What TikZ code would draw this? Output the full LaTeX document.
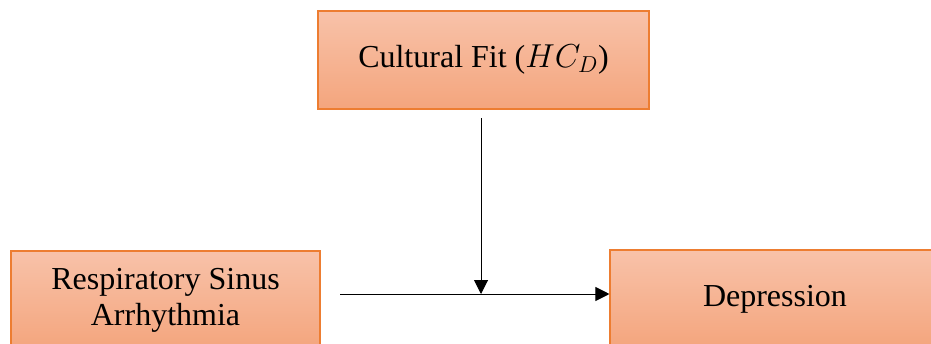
\documentclass[tikz,border=0pt]{standalone}
\usepackage{fontspec}
\setmainfont{Liberation Serif}
\usetikzlibrary{arrows.meta}
\definecolor{boxtop}{HTML}{F8C2A9}
\definecolor{boxbot}{HTML}{F4A57D}
\definecolor{boxline}{HTML}{ED7D31}
\tikzset{
  varbox/.style={draw=boxline, line width=0.8pt, top color=boxtop, bottom color=boxbot,
    minimum width=#1, minimum height=73.5pt, inner sep=0pt, align=center,
    font=\fontsize{24}{27}\selectfont},
  conn/.style={line width=0.75pt, -{Triangle[length=10.5pt,width=10.5pt]}}
}
\begin{document}
\begin{tikzpicture}[x=0.75pt,y=-0.75pt]
\useasboundingbox (0,0) rectangle (931,343);
\clip (0,0) rectangle (931,343);
\node[varbox=248.25pt] (fit) at (483.5,60) {Cultural Fit ($HC_D$)};
\node[varbox=231.75pt] (rsa) at (165.5,300) {Respiratory Sinus\\Arrhythmia};
\node[varbox=247.5pt] (dep) at (775,299) {Depression};
\coordinate (hs) at (340,294);
\coordinate (vs) at (481,118);
\coordinate (vm) at (481,294);
\draw[conn] (hs) -- (dep.west |- hs);
\draw[conn] (vs) -- (vm);
\end{tikzpicture}
\end{document}
